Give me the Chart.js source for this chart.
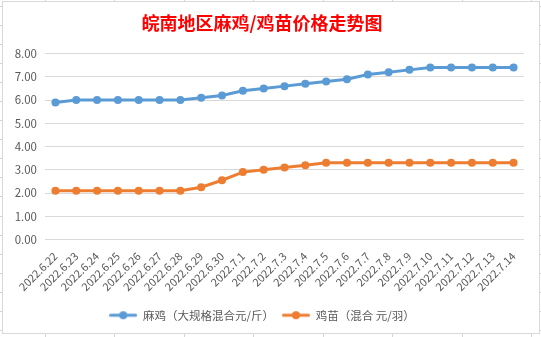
<!DOCTYPE html>
<html>
<head>
<meta charset="utf-8">
<script src="https://cdn.jsdelivr.net/npm/chart.js@4.4.1/dist/chart.umd.min.js"></script>
<style>
  html, body { margin: 0; padding: 0; }
  body {
    width: 541px; height: 337px; overflow: hidden; position: relative;
    background-color: #ffffff;
    background-image:
      repeating-linear-gradient(to right, transparent 0, transparent 45px, #d4d4d4 45px, #d4d4d4 46px, transparent 46px, transparent 69.5px),
      repeating-linear-gradient(to bottom, transparent 0, transparent 6px, #d4d4d4 6px, #d4d4d4 7px, transparent 7px, transparent 19.05px);
  }
  #box {
    position: absolute; left: 2px; top: 1px; width: 536px; height: 331px;
    border: 1px solid #d9d9d9; background: #ffffff;
  }
  #wrap { position: absolute; left: 0; top: 0; width: 541px; height: 337px; }
</style>
</head>
<body>
<div id="box"></div>
<div id="wrap"><canvas id="c" width="541" height="337"></canvas></div>
<script>
const titleText = '皖南地区麻鸡/鸡苗价格走势图';
const categories = ['2022.6.22','2022.6.23','2022.6.24','2022.6.25','2022.6.26','2022.6.27','2022.6.28','2022.6.29','2022.6.30','2022.7.1','2022.7.2','2022.7.3','2022.7.4','2022.7.5','2022.7.6','2022.7.7','2022.7.8','2022.7.9','2022.7.10','2022.7.11','2022.7.12','2022.7.13','2022.7.14'];
const seriesNames = ['麻鸡（大规格混合元/斤）', '鸡苗（混合 元/羽）'];
const maJi  = [5.9, 6.0, 6.0, 6.0, 6.0, 6.0, 6.0, 6.1, 6.2, 6.4, 6.5, 6.6, 6.7, 6.8, 6.9, 7.1, 7.2, 7.3, 7.4, 7.4, 7.4, 7.4, 7.4];
const jiMiao = [2.1, 2.1, 2.1, 2.1, 2.1, 2.1, 2.1, 2.25, 2.55, 2.9, 3.0, 3.1, 3.2, 3.3, 3.3, 3.3, 3.3, 3.3, 3.3, 3.3, 3.3, 3.3, 3.3];
const yTicks = [0, 1, 2, 3, 4, 5, 6, 7, 8];

const colors = ['#5B9BD5', '#ED7D31'];
const FONT = "'Noto Sans CJK SC', 'Noto Sans', sans-serif";

function legendMarker(color) {
  const cv = document.createElement('canvas');
  cv.width = 28; cv.height = 10;
  const g = cv.getContext('2d');
  g.strokeStyle = color; g.lineWidth = 3; g.lineCap = 'round';
  g.beginPath(); g.moveTo(1.5, 5); g.lineTo(26.5, 5); g.stroke();
  g.fillStyle = color;
  g.beginPath(); g.arc(14, 5, 4, 0, Math.PI * 2); g.fill();
  return cv;
}

new Chart(document.getElementById('c'), {
  type: 'line',
  data: {
    labels: categories,
    datasets: [
      { label: seriesNames[0], data: maJi, borderColor: colors[0], backgroundColor: colors[0],
        borderWidth: 3, pointRadius: 4, pointBackgroundColor: colors[0], pointBorderWidth: 0,
        pointStyle: 'circle', tension: 0 },
      { label: seriesNames[1], data: jiMiao, borderColor: colors[1], backgroundColor: colors[1],
        borderWidth: 3, pointRadius: 4, pointBackgroundColor: colors[1], pointBorderWidth: 0,
        pointStyle: 'circle', tension: 0 }
    ]
  },
  options: {
    responsive: false,
    animation: false,
    devicePixelRatio: 1,
    layout: { padding: { left: 0, right: 17, top: 0, bottom: 6 } },
    plugins: {
      title: {
        display: true, text: titleText, color: '#FF0000',
        font: { family: FONT, size: 18, weight: 'bold' },
        padding: { top: 12, bottom: 20 }
      },
      legend: {
        position: 'bottom',
        labels: {
          color: '#595959',
          font: { family: FONT, size: 11.5 },
          usePointStyle: true,
          pointStyleWidth: 28,
          padding: 8,
          generateLabels: (chart) => chart.data.datasets.map((ds, i) => ({
            text: ds.label, pointStyle: legendMarker(colors[i]), fillStyle: colors[i],
            strokeStyle: colors[i], lineWidth: 0, fontColor: '#595959', datasetIndex: i, hidden: false
          }))
        }
      },
      tooltip: { enabled: false }
    },
    scales: {
      x: {
        offset: true,
        afterFit: (s) => { s.height = 62; },
        grid: { display: false, drawTicks: false },
        border: { display: false },
        ticks: {
          color: '#595959', font: { family: FONT, size: 11 },
          minRotation: 45, maxRotation: 45, autoSkip: false, padding: 10
        }
      },
      y: {
        min: 0, max: 8,
        afterFit: (s) => { s.width = 45; },
        afterBuildTicks: (s) => { s.ticks = yTicks.map(v => ({ value: v })); },
        grid: { color: '#d9d9d9', lineWidth: 1, drawTicks: false },
        border: { display: false },
        ticks: {
          color: '#595959', font: { family: FONT, size: 11.5 }, padding: 8,
          callback: (v) => Number(v).toFixed(2)
        }
      }
    }
  }
});
</script>
</body>
</html>
